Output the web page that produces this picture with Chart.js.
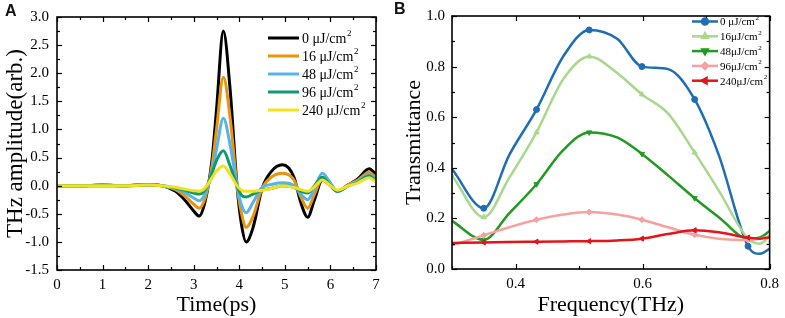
<!DOCTYPE html>
<html><head><meta charset="utf-8">
<script src="https://cdn.jsdelivr.net/npm/chart.js@4/dist/chart.umd.min.js"></script>
<style>
html,body{margin:0;padding:0;background:#fff;width:785px;height:318px;overflow:hidden}
canvas{position:absolute;top:0}
#ca{left:0}#cb{left:390px}
.lab{position:absolute;font:bold 16px "Liberation Sans",Arial,sans-serif;color:#111}
</style></head><body>
<canvas id="ca" width="390" height="318"></canvas>
<canvas id="cb" width="395" height="318"></canvas>
<div class="lab" style="left:5px;top:2px">A</div>
<div class="lab" style="left:394px;top:0px">B</div>
<script>
// ---------- Panel A data ----------
const timePs = [0, 0.5, 1, 1.5, 2, 2.3, 2.6, 2.8, 3.0, 3.12, 3.25, 3.4, 3.5, 3.65, 3.8, 3.95, 4.05, 4.15, 4.3, 4.5, 4.7, 4.95, 5.2, 5.35, 5.5, 5.65, 5.82, 6.0, 6.15, 6.4, 6.6, 6.85, 7.0];
const amp0   = [0,0,0.01,0,0.02, 0.0,-0.1,-0.25,-0.45,-0.54, -0.28,0.45,1.35,2.75,1.7, 0.0,-0.7,-1.0,-0.75,-0.05, 0.25,0.37,0.15,-0.3,-0.56, -0.25,0.1,0.0,-0.1,0.02, 0.12,0.3,0.2];
const amp16  = [0,0,0.01,0,0.02, 0.0,-0.07,-0.18,-0.33,-0.4, -0.22,0.35,1.0,1.93,1.2, 0.0,-0.5,-0.74,-0.55,-0.05, 0.15,0.22,0.1,-0.2,-0.4, -0.15,0.12,0.0,-0.1,0.02, 0.1,0.24,0.14];
const amp48  = [0,0,0,0,0.01, 0.0,-0.05,-0.12,-0.22,-0.27, -0.14,0.25,0.65,1.2,0.72, 0.0,-0.35,-0.48,-0.3,-0.03, 0.02,0.05,0.0,-0.15,-0.25, -0.05,0.22,0.05,-0.1,0.0, 0.08,0.2,0.1];
const amp96  = [0,0,0,0,0.01, 0.0,-0.04,-0.08,-0.13,-0.15, -0.07,0.22,0.45,0.62,0.35, 0.0,-0.17,-0.2,-0.15,-0.08, -0.05,0.0,-0.03,-0.1,-0.13, 0.0,0.15,0.0,-0.1,0.0, 0.06,0.17,0.08];
const amp240 = [0,0,0,0,0.01, 0.0,-0.03,-0.06,-0.09,-0.1, -0.04,0.14,0.26,0.35,0.2, 0.0,-0.08,-0.1,-0.1,-0.08, -0.05,0.0,-0.03,-0.07,-0.1, -0.02,0.1,0.0,-0.08,0.0, 0.05,0.14,0.06];
const labelsA = ["0 μJ/cm", "16 μJ/cm", "48 μJ/cm", "96 μJ/cm", "240 μJ/cm"];
const xTicksA = [0,1,2,3,4,5,6,7];
const yTicksA = [-1.5,-1.0,-0.5,0.0,0.5,1.0,1.5,2.0,2.5,3.0];

// ---------- Panel B data ----------
const freqTHz = [0.3, 0.35, 0.39, 0.433, 0.475, 0.516, 0.56, 0.599, 0.64, 0.682, 0.72, 0.766, 0.785, 0.8];
const markerIdx = [1,3,5,7,9,11];
const tr0   = [0.395,0.24,0.45,0.63,0.84,0.945,0.91,0.80,0.79,0.67,0.45,0.09,0.06,0.08];
const tr16  = [0.37,0.205,0.36,0.54,0.75,0.84,0.775,0.69,0.615,0.46,0.31,0.12,0.10,0.13];
const tr48  = [0.19,0.115,0.22,0.335,0.47,0.54,0.52,0.455,0.37,0.28,0.205,0.12,0.125,0.15];
const tr96  = [0.094,0.133,0.165,0.195,0.215,0.225,0.215,0.195,0.165,0.135,0.12,0.115,0.12,0.13];
const tr240 = [0.103,0.105,0.107,0.108,0.109,0.11,0.113,0.12,0.138,0.153,0.145,0.124,0.12,0.125];
const labelsB = ["0 μJ/cm", "16μJ/cm", "48μJ/cm", "96μJ/cm", "240μJ/cm"];
const xTicksB = [0.4,0.6,0.8];
const yTicksB = [0.0,0.2,0.4,0.6,0.8,1.0];

const SERIF = '"Liberation Serif","Times New Roman",serif';

function minorsOf(ticks){
  const out=[]; const st=ticks[1]-ticks[0];
  out.push(ticks[0]-st/2);
  for(let i=0;i<ticks.length;i++) out.push(ticks[i]+st/2);
  return out;
}

function framePlugin(xMaj,yMaj){
  const xMin=minorsOf(xMaj), yMin=minorsOf(yMaj);
  return {id:'frame', afterDatasetsDraw(chart){
    const {ctx,chartArea:{left,right,top,bottom},scales:{x,y}}=chart;
    ctx.save(); ctx.strokeStyle='#000';
    const ln=(a,b,c,d)=>{ctx.beginPath();ctx.moveTo(a,b);ctx.lineTo(c,d);ctx.stroke();};
    ctx.lineWidth=1.2;
    const xIn=(v)=>v>=x.min-1e-9&&v<=x.max+1e-9, yIn=(v)=>v>=y.min-1e-9&&v<=y.max+1e-9;
    xMaj.filter(xIn).forEach(v=>{const p=Math.round(x.getPixelForValue(v))+0.5;ln(p,bottom,p,bottom-5);ln(p,top,p,top+5);});
    xMin.filter(xIn).forEach(v=>{const p=Math.round(x.getPixelForValue(v))+0.5;ln(p,bottom,p,bottom-3);ln(p,top,p,top+3);});
    yMaj.filter(yIn).forEach(v=>{const p=Math.round(y.getPixelForValue(v))+0.5;ln(left,p,left+5,p);ln(right,p,right-5,p);});
    yMin.filter(yIn).forEach(v=>{const p=Math.round(y.getPixelForValue(v))+0.5;ln(left,p,left+3,p);ln(right,p,right-3,p);});
    ctx.lineWidth=1.6;
    ctx.strokeRect(left,top,right-left,bottom-top);
    ctx.restore();
  }};
}

function legendPlugin(cfg){
  return {id:'leg', afterDraw(chart){
    const ctx=chart.ctx; ctx.save();
    chart.data.datasets.forEach((ds,i)=>{
      const yy=cfg.y0+i*cfg.dy;
      ctx.strokeStyle=ds.borderColor; ctx.lineWidth=cfg.lw; ctx.lineCap='butt';
      ctx.beginPath(); ctx.moveTo(cfg.x0,yy); ctx.lineTo(cfg.x1,yy); ctx.stroke();
      if(cfg.markers && ds.pointStyle && Chart.helpers && Chart.helpers.drawPoint){
        ctx.fillStyle=ds.borderColor;
        Chart.helpers.drawPoint(ctx,{pointStyle:ds.pointStyle,rotation:ds.rotation||0,radius:3,borderWidth:1},(cfg.x0+cfg.x1)/2,yy);
        ctx.fill();
      }
      ctx.fillStyle='#000'; ctx.textBaseline='middle'; ctx.textAlign='left';
      ctx.font=cfg.fs+'px '+SERIF;
      const t=ds.label; ctx.fillText(t,cfg.tx,yy+1);
      const w=ctx.measureText(t).width;
      ctx.font=Math.round(cfg.fs*0.65)+'px '+SERIF;
      ctx.fillText('2',cfg.tx+w+0.5,yy-cfg.fs*0.3);
    });
    ctx.restore();
  }};
}

// ---------- Chart A ----------
const colorsA=['#000000','#E8940C','#56B4E9','#0E9A6E','#F2E21E'];
const seriesA=[amp0,amp16,amp48,amp96,amp240];
new Chart(document.getElementById('ca'),{
  type:'line',
  data:{datasets:seriesA.map((s,i)=>({
    label:labelsA[i], data:timePs.map((t,j)=>({x:t,y:s[j]})),
    borderColor:colorsA[i], backgroundColor:colorsA[i], borderWidth:3,
    pointRadius:0, cubicInterpolationMode:'monotone', order:seriesA.length-i, fill:false
  }))},
  options:{responsive:false,animation:false,devicePixelRatio:1,
    layout:{padding:{left:0,top:14,right:14,bottom:0}},
    plugins:{legend:{display:false},tooltip:{enabled:false}},
    scales:{
      x:{type:'linear',min:0,max:7,
        afterBuildTicks:(s)=>{s.ticks=xTicksA.map(v=>({value:v}));},
        afterFit:(s)=>{s.height=48;},
        grid:{display:false,drawTicks:false},border:{display:false},
        ticks:{padding:6,color:'#000',font:{family:SERIF,size:15},callback:(v)=>String(v),maxRotation:0},
        title:{display:true,text:'Time(ps)',color:'#000',font:{family:SERIF,size:22},padding:{top:1,bottom:0}}},
      y:{type:'linear',min:-1.5,max:3.0,
        afterBuildTicks:(s)=>{s.ticks=yTicksA.map(v=>({value:v}));},
        afterFit:(s)=>{s.width=57;},
        grid:{display:false,drawTicks:false},border:{display:false},
        ticks:{padding:8,color:'#000',font:{family:SERIF,size:15},callback:(v)=>v.toFixed(1)},
        title:{display:true,text:'THz amplitude(arb.)',color:'#000',font:{family:SERIF,size:23},padding:{top:2,bottom:0}}}
    }},
  plugins:[framePlugin(xTicksA,yTicksA),legendPlugin({x0:268,x1:299,tx:302,y0:38,dy:18,lw:3,fs:14,markers:false})]
});

// ---------- Chart B ----------
const colorsB=['#1F6DB3','#A8D88C','#229A22','#F7A0A0','#E3141A'];
const stylesB=[['circle',0],['triangle',0],['triangle',180],['rectRot',0],['triangle',270]];
const seriesB=[tr0,tr16,tr48,tr96,tr240];
new Chart(document.getElementById('cb'),{
  type:'line',
  data:{datasets:seriesB.map((s,i)=>({
    label:labelsB[i], data:freqTHz.map((f,j)=>({x:f,y:s[j]})),
    borderColor:colorsB[i], backgroundColor:colorsB[i], borderWidth:2.5,
    pointStyle:stylesB[i][0], rotation:stylesB[i][1],
    pointRadius:freqTHz.map((_,j)=>markerIdx.includes(j)?3:0), pointBorderWidth:1,
    cubicInterpolationMode:'monotone', order:seriesB.length-i, fill:false
  }))},
  options:{responsive:false,animation:false,devicePixelRatio:1,
    layout:{padding:{left:0,top:14,right:15,bottom:0}},
    plugins:{legend:{display:false},tooltip:{enabled:false}},
    scales:{
      x:{type:'linear',min:0.3,max:0.8,
        afterBuildTicks:(s)=>{s.ticks=xTicksB.map(v=>({value:v}));},
        afterFit:(s)=>{s.height=49;},
        grid:{display:false,drawTicks:false},border:{display:false},
        ticks:{padding:6,color:'#000',font:{family:SERIF,size:15},callback:(v)=>v.toFixed(1),maxRotation:0},
        title:{display:true,text:'Frequency(THz)',color:'#000',font:{family:SERIF,size:22},padding:{top:2,bottom:0}}},
      y:{type:'linear',min:0,max:1.0,
        afterBuildTicks:(s)=>{s.ticks=yTicksB.map(v=>({value:v}));},
        afterFit:(s)=>{s.width=62;},
        grid:{display:false,drawTicks:false},border:{display:false},
        ticks:{padding:7,color:'#000',font:{family:SERIF,size:15},callback:(v)=>v.toFixed(1)},
        title:{display:true,text:'Transmittance',color:'#000',font:{family:SERIF,size:22},padding:{top:11,bottom:0}}}
    }},
  plugins:[framePlugin(xTicksB,yTicksB),legendPlugin({x0:302,x1:328,tx:330,y0:21.5,dy:14.8,lw:2.5,fs:11,markers:true})]
});
</script>
</body></html>
